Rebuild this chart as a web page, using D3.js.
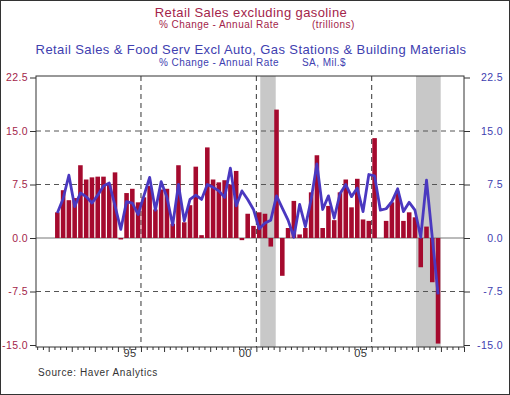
<!DOCTYPE html>
<html>
<head>
<meta charset="utf-8">
<script src="https://cdn.jsdelivr.net/npm/d3@7"></script>
<style>
  body { margin: 0; background: #fff; }
  svg { display: block; font-family: "Liberation Sans", Arial, sans-serif; }
  .axis path { display: none; }
  .axis line { stroke: #333; }
</style>
</head>
<body>
<div id="chart"></div>
<script>
var svgWidth = 510;
var svgHeight = 395;

// first quarter shown is 1992 Q2, last 2008 Q4
var startQuarter = 1992.25;

// Retail sales excluding gasoline, % change annual rate (bars)
var salesExGas = [3.6, 6.7, 5.3, 5.6, 10.2, 8.2, 8.5, 8.6, 8.6, 7.5, 9.2, -0.2,
  6.3, 6.9, 5.0, 5.7, 7.3, 4.0, 6.8, 6.9, 2.0, 10.2, 2.2, 4.6,
  10.0, 0.4, 12.7, 8.2, 7.8, 8.1, 7.5, 9.4, -0.3, 3.4, 1.7, 3.6,
  3.4, -1.2, 18.0, -5.3, 1.4, 5.2, 0.5, 1.4, 6.4, 11.6, 1.4, 4.5,
  2.5, 6.4, 8.2, 4.3, 8.3, 2.6, 2.4, 14.0, 0.0, 2.4, 5.0, 6.5,
  2.4, 3.6, 2.9, -4.1, 1.6, -6.2, -14.8];

// Retail sales & food serv excl auto, gas stations & building materials (line)
var salesCore = [3.5, 5.5, 8.8, 4.4, 6.3, 5.8, 4.9, 6.0, 7.3, 7.7, 4.5, 1.2,
  5.1, 4.9, 3.3, 5.9, 8.5, 3.9, 7.9, 5.7, 1.8, 7.5, 2.4, 5.4,
  6.0, 5.4, 7.5, 7.1, 6.6, 5.7, 9.8, 4.5, 6.6, 5.4, 4.0, 1.3,
  2.1, 2.5, 5.9, 4.2, 2.5, 0.1, 4.7, 1.6, 5.4, 10.4, 4.0, 5.9,
  2.8, 6.2, 7.5, 5.8, 7.0, 3.7, 8.9, 8.7, 3.9, 4.1, 5.1, 6.9,
  3.7, 5.0, 3.9, 0.1, 8.1, 0.1, -7.9];

var yTicks = [-15, -7.5, 0, 7.5, 15, 22.5];
var gridY = [-7.5, 7.5, 15];
var gridX = [1996, 2001, 2006];
var yearLabels = ["95", "00", "05"];
var recessions = [[2001.17, 2001.84], [2007.92, 2008.99]];

var redText = "#a3244a";
var blueText = "#4040b0";

var quarters = salesExGas.map(function(v, i) { return startQuarter + i * 0.25; });

var svg = d3.select("#chart").append("svg")
  .attr("width", svgWidth)
  .attr("height", svgHeight);

svg.append("rect")
  .attr("x", 0.5).attr("y", 0.5)
  .attr("width", svgWidth - 1).attr("height", svgHeight - 1)
  .attr("fill", "#fff").attr("stroke", "#333");

var plot = {left: 36, right: 464, top: 76, bottom: 347};

var x = d3.scaleLinear().domain([1991.45, 2010.0]).range([plot.left, plot.right]);
var y = d3.scaleLinear().domain([-15, 22.5]).range([345, 77.5]);

// recession shading
svg.selectAll(".rec").data(recessions).enter().append("rect")
  .attr("x", d => x(d[0]))
  .attr("width", d => x(d[1]) - x(d[0]))
  .attr("y", plot.top)
  .attr("height", plot.bottom - plot.top)
  .attr("fill", "#c8c8c8");

// gridlines
svg.selectAll(".gy").data(gridY).enter().append("line")
  .attr("x1", plot.left).attr("x2", plot.right)
  .attr("y1", d => y(d)).attr("y2", d => y(d))
  .attr("stroke", "#555").attr("stroke-dasharray", "5,4");

svg.selectAll(".gx").data(gridX).enter().append("line")
  .attr("x1", d => x(d)).attr("x2", d => x(d))
  .attr("y1", plot.top).attr("y2", plot.bottom)
  .attr("stroke", "#333").attr("stroke-dasharray", "5,4");

svg.append("line")
  .attr("x1", plot.left).attr("x2", plot.right)
  .attr("y1", y(0)).attr("y2", y(0))
  .attr("stroke", "#777");

// bars
svg.selectAll(".bar").data(salesExGas).enter().append("rect")
  .attr("x", (d, i) => x(quarters[i]) + 0.6)
  .attr("width", (d, i) => x(quarters[i] + 0.25) - x(quarters[i]) - 1.2)
  .attr("y", d => y(Math.max(0, d)))
  .attr("height", d => Math.abs(y(d) - y(0)))
  .attr("fill", "#a50a2e");

// line
var line = d3.line()
  .x((d, i) => x(quarters[i] + 0.125))
  .y(d => y(d));

svg.append("path")
  .datum(salesCore)
  .attr("d", line)
  .attr("fill", "none")
  .attr("stroke", "#4a38c0")
  .attr("stroke-width", 2.8)
  .attr("stroke-linejoin", "round");

// frame
svg.append("rect")
  .attr("x", plot.left).attr("y", plot.top)
  .attr("width", plot.right - plot.left).attr("height", plot.bottom - plot.top)
  .attr("fill", "none").attr("stroke", "#333");

// left and right value axes (plain hyphen minus, as in the original)
var fmt = d => d.toFixed(1);

var leftAxis = svg.append("g").attr("class", "axis")
  .attr("transform", `translate(${plot.left},0)`)
  .call(d3.axisLeft(y).tickValues(yTicks).tickFormat(fmt).tickSize(6).tickPadding(2));
leftAxis.selectAll("text").attr("fill", redText)
  .style("font-size", "10.5px").style("letter-spacing", "0.4px");

var rightAxis = svg.append("g").attr("class", "axis")
  .attr("transform", `translate(${plot.right},0)`)
  .call(d3.axisRight(y).tickValues(yTicks).tickFormat(fmt).tickSize(6).tickPadding(3));
rightAxis.selectAll("text").attr("fill", blueText)
  .style("font-size", "10.5px").style("letter-spacing", "0.4px")
  .attr("text-anchor", "end").attr("x", 39);

// bottom axis: year ticks, quarter ticks, labels
var years = d3.range(1992, 2011);
var qTicks = d3.range(1991.5, 2010.01, 0.25).filter(d => d % 1 !== 0);

svg.append("g").attr("class", "axis")
  .attr("transform", `translate(0,${plot.bottom})`)
  .call(d3.axisBottom(x).tickValues(years).tickSize(5).tickFormat(""));

svg.append("g").attr("class", "axis")
  .attr("transform", `translate(0,${plot.bottom})`)
  .call(d3.axisBottom(x).tickValues(qTicks).tickSize(3).tickFormat(""));

var labelAxis = svg.append("g").attr("class", "axis")
  .attr("transform", `translate(0,${plot.bottom})`)
  .call(d3.axisBottom(x).tickValues([1995.5, 2000.5, 2005.5]).tickSize(0).tickPadding(2)
    .tickFormat((d, i) => yearLabels[i]));
labelAxis.selectAll("text").attr("fill", "#333")
  .style("font-size", "11px").style("letter-spacing", "0.4px");

// titles
svg.append("text").attr("x", 251).attr("y", 17).attr("text-anchor", "middle")
  .attr("fill", redText).style("font-size", "13px").style("letter-spacing", "0.4px")
  .text("Retail Sales excluding gasoline");
svg.append("text").attr("x", 159).attr("y", 28).attr("fill", redText)
  .style("font-size", "10px").style("letter-spacing", "0.45px")
  .text("% Change - Annual Rate");
svg.append("text").attr("x", 312).attr("y", 28).attr("fill", redText)
  .style("font-size", "10px").style("letter-spacing", "0.45px")
  .text("(trillions)");

svg.append("text").attr("x", 251).attr("y", 54).attr("text-anchor", "middle")
  .attr("fill", blueText).style("font-size", "13px").style("letter-spacing", "0.4px")
  .text("Retail Sales & Food Serv Excl Auto, Gas Stations & Building Materials");
svg.append("text").attr("x", 159).attr("y", 66).attr("fill", blueText)
  .style("font-size", "10px").style("letter-spacing", "0.45px")
  .text("% Change - Annual Rate");
svg.append("text").attr("x", 302).attr("y", 66).attr("fill", blueText)
  .style("font-size", "10px").style("letter-spacing", "0.45px")
  .text("SA, Mil.$");

svg.append("text").attr("x", 38).attr("y", 376).attr("fill", "#333")
  .style("font-size", "10px").style("letter-spacing", "0.6px")
  .text("Source:  Haver Analytics");
</script>
</body>
</html>
